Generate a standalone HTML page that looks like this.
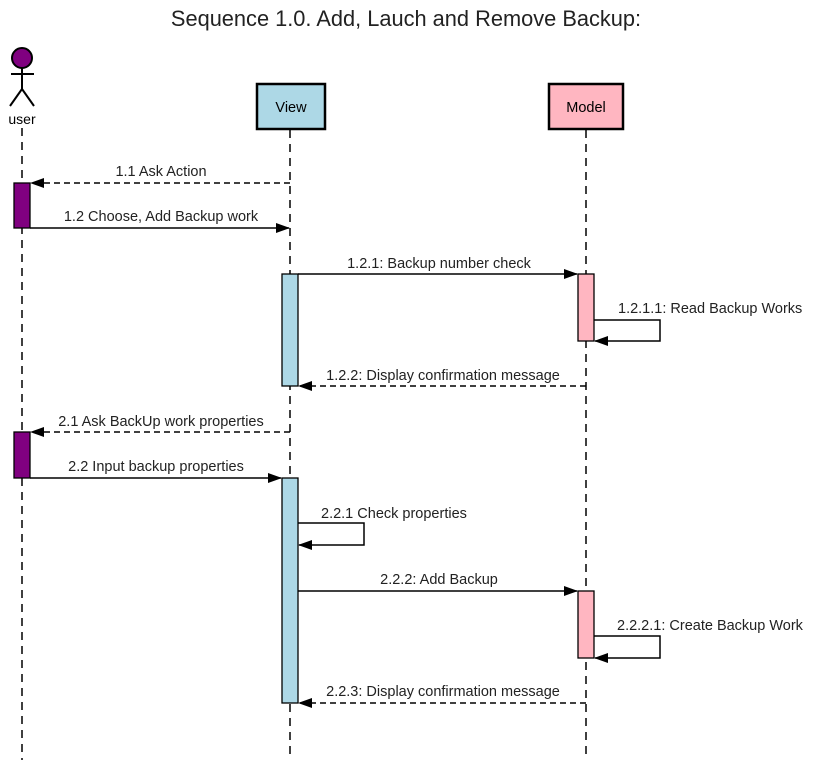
<!DOCTYPE html>
<html><head><meta charset="utf-8"><style>
html,body{margin:0;padding:0;background:#fff;}
svg{display:block;font-family:"Liberation Sans",Arial,sans-serif;}
</style></head><body>
<svg width="813" height="760" viewBox="0 0 813 760" xmlns="http://www.w3.org/2000/svg">
<defs>
<marker id="a" markerWidth="14" markerHeight="10" refX="13" refY="5" orient="auto" markerUnits="userSpaceOnUse"><path d="M0,0 L14,5 L0,10 z" fill="#000"/></marker>
</defs>
<text x="406" y="26" font-size="21.8" text-anchor="middle" fill="#222">Sequence 1.0. Add, Lauch and Remove Backup:</text>
<g stroke="#000" stroke-width="1.5" stroke-dasharray="8,6" fill="none">
<line x1="22" y1="128" x2="22" y2="760"/>
<line x1="290" y1="130" x2="290" y2="760"/>
<line x1="586" y1="130" x2="586" y2="760"/>
</g>
<circle cx="22" cy="58" r="10" fill="#800080" stroke="#000" stroke-width="2"/>
<g stroke="#000" stroke-width="2"><line x1="22" y1="68" x2="22" y2="89"/><line x1="11" y1="74" x2="34" y2="74"/><line x1="22" y1="89" x2="10" y2="106"/><line x1="22" y1="89" x2="34" y2="106"/></g>
<text x="22" y="124" font-size="14" text-anchor="middle">user</text>
<rect x="257" y="84" width="68" height="45" fill="#add8e6" stroke="#000" stroke-width="2.5"/>
<text x="291" y="112" font-size="14.5" text-anchor="middle">View</text>
<rect x="549" y="84" width="74" height="45" fill="#ffb6c1" stroke="#000" stroke-width="2.5"/>
<text x="586" y="112" font-size="14.5" text-anchor="middle">Model</text>
<g stroke="#000" stroke-width="1.3">
<rect x="14" y="183" width="16" height="45" fill="#800080"/>
<rect x="14" y="432" width="16" height="46" fill="#800080"/>
<rect x="282" y="274" width="16" height="112" fill="#add8e6"/>
<rect x="282" y="478" width="16" height="225" fill="#add8e6"/>
<rect x="578" y="274" width="16" height="67" fill="#ffb6c1"/>
<rect x="578" y="591" width="16" height="67" fill="#ffb6c1"/>
</g>
<g stroke="#000" stroke-width="1.5" fill="none">
<line x1="290" y1="183" x2="31" y2="183" stroke-dasharray="6,4" marker-end="url(#a)"/>
<line x1="30" y1="228" x2="289" y2="228" marker-end="url(#a)"/>
<line x1="298" y1="274" x2="577" y2="274" marker-end="url(#a)"/>
<polyline points="594,320 660,320 660,341 595,341" marker-end="url(#a)"/>
<line x1="586" y1="386" x2="299" y2="386" stroke-dasharray="6,4" marker-end="url(#a)"/>
<line x1="290" y1="432" x2="31" y2="432" stroke-dasharray="6,4" marker-end="url(#a)"/>
<line x1="30" y1="478" x2="281" y2="478" marker-end="url(#a)"/>
<polyline points="298,523 364,523 364,545 299,545" marker-end="url(#a)"/>
<line x1="298" y1="591" x2="577" y2="591" marker-end="url(#a)"/>
<polyline points="594,636 660,636 660,658 595,658" marker-end="url(#a)"/>
<line x1="586" y1="703" x2="299" y2="703" stroke-dasharray="6,4" marker-end="url(#a)"/>
</g>
<g font-size="14.5" fill="#222">
<text x="161" y="176" text-anchor="middle">1.1 Ask Action</text>
<text x="161" y="221" text-anchor="middle">1.2 Choose, Add Backup work</text>
<text x="439" y="268" text-anchor="middle">1.2.1: Backup number check</text>
<text x="618" y="313">1.2.1.1: Read Backup Works</text>
<text x="443" y="380" text-anchor="middle">1.2.2: Display confirmation message</text>
<text x="161" y="426" text-anchor="middle">2.1 Ask BackUp work properties</text>
<text x="156" y="471" text-anchor="middle">2.2 Input backup properties</text>
<text x="321" y="518">2.2.1 Check properties</text>
<text x="439" y="584" text-anchor="middle">2.2.2: Add Backup</text>
<text x="617" y="630">2.2.2.1: Create Backup Work</text>
<text x="443" y="696" text-anchor="middle">2.2.3: Display confirmation message</text>
</g>
</svg>
</body></html>
